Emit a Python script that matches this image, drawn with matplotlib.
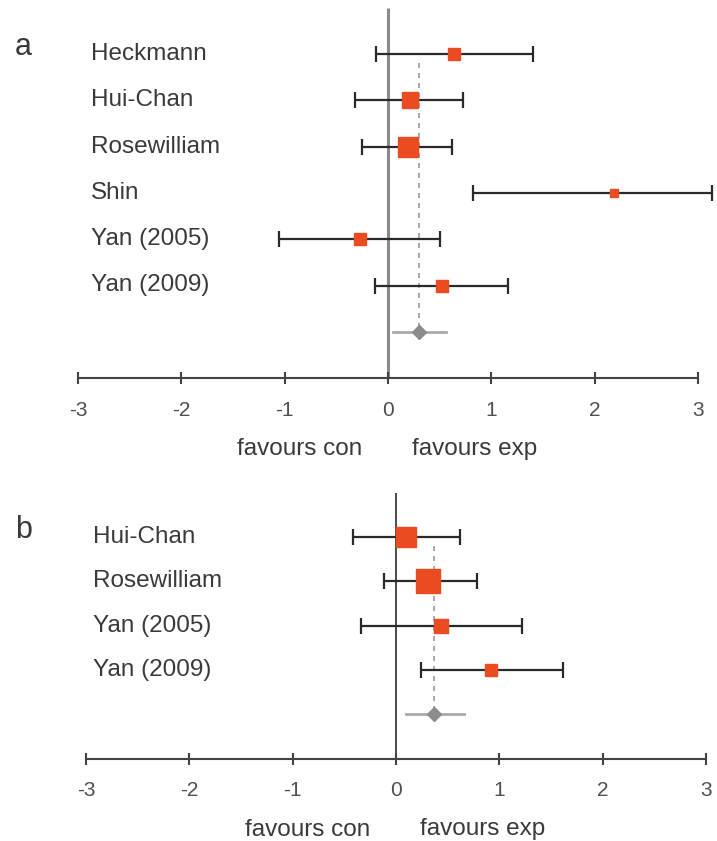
import numpy as np
import matplotlib
matplotlib.use('Agg')
import matplotlib.pyplot as plt

plt.rcParams['font.family'] = ['Liberation Sans', 'DejaVu Sans']
plt.rcParams['axes.unicode_minus'] = False

# panel a data
studies_a = ['Heckmann', 'Hui-Chan', 'Rosewilliam', 'Shin', 'Yan (2005)', 'Yan (2009)']
est_a = [0.64, 0.21, 0.19, 2.19, -0.27, 0.52]
lo_a = [-0.12, -0.32, -0.25, 0.82, -1.06, -0.13]
hi_a = [1.40, 0.73, 0.62, 3.14, 0.50, 1.16]
size_a = [8.5, 12, 15, 6, 8.5, 9]
pool_a = [0.30, 0.05, 0.56]  # est, lo, hi

# panel b data
studies_b = ['Hui-Chan', 'Rosewilliam', 'Yan (2005)', 'Yan (2009)']
est_b = [0.10, 0.31, 0.44, 0.92]
lo_b = [-0.42, -0.12, -0.34, 0.24]
hi_b = [0.62, 0.78, 1.22, 1.62]
size_b = [15, 17.5, 9.5, 9]
pool_b = [0.37, 0.10, 0.66]

ticks = [-3, -2, -1, 0, 1, 2, 3]

W, H = 717, 841
fig = plt.figure(figsize=(W / 100, H / 100), dpi=100)

sq_col = '#EA4B20'
bar_col = '#2a2a2a'
txt_col = '#3a3a3a'


def panel(rect_px, zero_px, row0_px, step_px, studies, est, lo, hi, sizes, pool,
          letter, zero_col, zero_lw, label_px):
    x0, y0, x1, y1 = rect_px  # pixel box, y measured from top
    ax = fig.add_axes([x0 / W, 1 - y1 / H, (x1 - x0) / W, (y1 - y0) / H])
    unit = 103.3
    ax.set_xlim((x0 - zero_px) / unit, (x1 - zero_px) / unit)
    ax.set_ylim((y1 - row0_px) / step_px, (y0 - row0_px) / step_px)
    n = len(studies)
    ys = np.arange(n)
    axis_y = n + 1

    # zero line
    ax.vlines(0, -1.0, axis_y, color=zero_col, lw=zero_lw, zorder=1)
    # pooled estimate dashed line
    ax.plot([pool[0], pool[0]], [0.2, n], color='#9a9a9a', lw=1.2,
            ls=(0, (3, 3)), zorder=2)

    ax.errorbar(est, ys, xerr=[np.array(est) - np.array(lo), np.array(hi) - np.array(est)],
                fmt='none', ecolor=bar_col, elinewidth=1.6, capsize=5.5, capthick=1.6,
                zorder=3, clip_on=False)
    for x, y, s in zip(est, ys, sizes):
        ax.plot(x, y, marker='s', ms=s, color=sq_col, mec=sq_col, ls='none',
                zorder=4, clip_on=False)

    # pooled
    ax.plot([pool[1], pool[2]], [n, n], color='#aaaaaa', lw=2, zorder=3)
    ax.plot(pool[0], n, marker='D', ms=7, color='#8c8c8c', zorder=4)

    for name, y in zip(studies, ys):
        ax.text((label_px - zero_px) / unit, y, name, ha='left', va='center',
                fontsize=17.5, color=txt_col)
    ax.text((x0 + 15 - zero_px) / unit, -0.15, letter, ha='left', va='center',
            fontsize=22, color=txt_col)

    for s in ['left', 'top', 'right']:
        ax.spines[s].set_visible(False)
    ax.spines['bottom'].set_position(('data', axis_y))
    ax.spines['bottom'].set_bounds(-3, 3)
    ax.spines['bottom'].set_color('#444444')
    ax.spines['bottom'].set_linewidth(1.5)
    ax.set_xticks(ticks)
    ax.set_xticklabels([str(t) for t in ticks])
    ax.tick_params(axis='x', direction='inout', length=9, width=1.5,
                   colors='#444444', labelcolor='#505050', labelsize=15, pad=12)
    ax.set_yticks([])
    ax.patch.set_visible(False)

    # favours labels
    fy = axis_y + 77 / step_px
    ax.text(-0.25, fy, 'favours con', ha='right', va='baseline', fontsize=17.5,
            color=txt_col, clip_on=False)
    ax.text(0.23, fy, 'favours exp', ha='left', va='baseline', fontsize=17.5,
            color=txt_col, clip_on=False)
    return ax


panel((0, 0, 717, 420), 388, 54, 46.3, studies_a, est_a, lo_a, hi_a, size_a, pool_a,
      'a', '#8a8a8a', 2.2, 91)
panel((0, 460, 717, 841), 396, 537, 44.3, studies_b, est_b, lo_b, hi_b, size_b, pool_b,
      'b', '#1a1a1a', 1.1, 93)

fig.savefig('out.png', dpi=100)
